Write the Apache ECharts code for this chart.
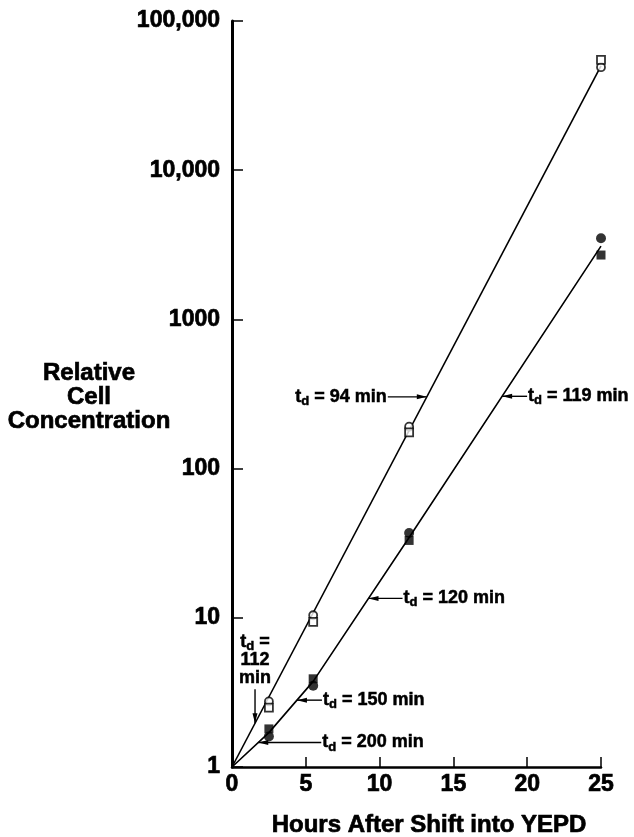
<!DOCTYPE html>
<html><head><meta charset="utf-8">
<script src="https://cdn.jsdelivr.net/npm/echarts@6/dist/echarts.min.js"></script>
<style>html,body{margin:0;padding:0;background:#fff}#c{width:634px;height:837px}</style>
</head><body><div id="c"></div>
<script>
// ---- data ----
const hours = [2.5, 5.5, 12, 25];
const openCircle = [2.75, 10.4, 191, 49000];
const openSquare = [2.5, 9.4, 175, 54800];
const filledCircle = [1.6, 3.5, 37, 3500];
const filledSquare = [1.8, 3.9, 33, 2700];
const fitHoursUpper = [0, 25];
const fitUpper = [1, 50000];
const fitHoursLower = [0, 2.5, 5.5, 12, 25];
const fitLower = [1, 1.7, 3.75, 34.5, 3100];
const yTickLabels = ['1', '10', '100', '1000', '10,000', '100,000'];
const xAxisTitle = 'Hours After Shift into YEPD';
const yAxisTitle = 'Relative\nCell\nConcentration';
// annotations: doubling times, which fitted line the arrow points to, at which hour
const annoLabels = ['94 min', '119 min', '120 min', '150 min', '200 min', '112'];
const annoLines = ['upper', 'lower', 'lower', 'lower', 'lower', 'upper'];
const annoHours = [13.2, 18.3, 9.25, 4.4, 1.78, 1.56];

const FONT = '"Liberation Sans", Arial, Helvetica, sans-serif';
const pairs = (xs, ys) => xs.map((x, i) => [x, ys[i]]);
const heavy = { textBorderColor: '#000', textBorderWidth: 0.7 };

const option = {
  animation: false,
  backgroundColor: '#fff',
  grid: { left: 232, right: 33, top: 21, bottom: 70 },
  xAxis: {
    type: 'value', min: 0, max: 25, interval: 5,
    axisLine: { lineStyle: { color: '#000', width: 2.5 } },
    axisTick: { inside: true, length: 10, lineStyle: { color: '#000', width: 1.5 } },
    axisLabel: Object.assign({ color: '#000', fontSize: 23, fontWeight: 'bold', fontFamily: FONT, margin: 6 }, heavy),
    splitLine: { show: false }
  },
  yAxis: {
    type: 'log', logBase: 10, min: 1, max: 100000, splitNumber: 5,
    axisLine: { lineStyle: { color: '#000', width: 3 } },
    axisTick: { inside: true, length: 11, lineStyle: { color: '#000', width: 1.5 } },
    minorTick: { show: false },
    axisLabel: Object.assign({
      color: '#000', fontSize: 23, fontWeight: 'bold', fontFamily: FONT, margin: 12,
      formatter: v => yTickLabels[Math.round(Math.log10(v))]
    }, heavy),
    splitLine: { show: false }
  },
  series: [
    { type: 'line', data: pairs(fitHoursUpper, fitUpper), symbol: 'none', lineStyle: { color: '#000', width: 1.6 }, z: 1 },
    { type: 'line', data: pairs(fitHoursLower, fitLower), symbol: 'none', lineStyle: { color: '#000', width: 1.6 }, z: 1 },
    { type: 'scatter', data: pairs(hours, openCircle), symbol: 'circle', symbolSize: 8,
      itemStyle: { color: '#fff', borderColor: '#000', borderWidth: 1.8 }, z: 3 },
    { type: 'scatter', data: pairs(hours, openSquare), symbol: 'rect', symbolSize: 8,
      itemStyle: { color: '#fff', borderColor: '#000', borderWidth: 1.8 }, z: 3 },
    { type: 'scatter', data: pairs(hours, filledCircle), symbol: 'circle', symbolSize: 10,
      itemStyle: { color: '#000' }, z: 3 },
    { type: 'scatter', data: pairs(hours, filledSquare), symbol: 'rect', symbolSize: 9,
      itemStyle: { color: '#000' }, z: 3 }
  ]
};

const chart = echarts.init(document.getElementById('c'), null, { renderer: 'canvas' });
chart.setOption(option);

function lineVal(hs, vs, h) {
  for (let i = 0; i < hs.length - 1; i++) {
    if (h >= hs[i] && h <= hs[i + 1]) {
      const t = (h - hs[i]) / (hs[i + 1] - hs[i]);
      return Math.pow(10, Math.log10(vs[i]) + t * (Math.log10(vs[i + 1]) - Math.log10(vs[i])));
    }
  }
  return vs[vs.length - 1];
}

const rich = {
  a: { fontSize: 18, fontWeight: 'bold', fontFamily: FONT, fill: '#000', stroke: '#000', lineWidth: 0.5 },
  s: { fontSize: 13, fontWeight: 'bold', fontFamily: FONT, fill: '#000', stroke: '#000', lineWidth: 0.5, padding: [9, 0, 0, 0] }
};
const ARROW_LEN = [39, 25, 34, 25, 63, 34];
const SIDE = ['left', 'right', 'right', 'right', 'right', 'up'];
const g = [];
annoLabels.forEach((lab, i) => {
  const up = annoLines[i] === 'upper';
  const v = lineVal(up ? fitHoursUpper : fitHoursLower, up ? fitUpper : fitLower, annoHours[i]);
  const p = chart.convertToPixel({ gridIndex: 0 }, [annoHours[i], v]);
  const side = SIDE[i], len = ARROW_LEN[i];
  if (side === 'left' || side === 'right') {
    const dir = side === 'left' ? -1 : 1;
    const tx = p[0] + dir * len;
    g.push({ type: 'line', shape: { x1: p[0], y1: p[1], x2: tx, y2: p[1] }, style: { stroke: '#000', lineWidth: 1.4 } });
    g.push({ type: 'polygon', shape: { points: [[p[0], p[1]], [p[0] + dir * 10, p[1] - 2.5], [p[0] + dir * 10, p[1] + 2.5]] }, style: { fill: '#000' } });
    g.push({ type: 'text', x: tx + dir * 1, y: p[1],
      style: { text: '{a|t}{s|d}{a| = ' + lab + '}', rich: rich, align: side === 'left' ? 'right' : 'left', verticalAlign: 'middle' } });
  } else {
    const ty = p[1] - len;
    g.push({ type: 'line', shape: { x1: p[0], y1: p[1], x2: p[0], y2: ty }, style: { stroke: '#000', lineWidth: 1.4 } });
    g.push({ type: 'polygon', shape: { points: [[p[0], p[1]], [p[0] - 2.5, p[1] - 10], [p[0] + 2.5, p[1] - 10]] }, style: { fill: '#000' } });
    g.push({ type: 'text', x: p[0], y: ty - 2,
      style: { text: '{a|t}{s|d}{a| =}\n{a|' + lab + '}\n{a|min}', rich: rich, align: 'center', verticalAlign: 'bottom', lineHeight: 18 } });
  }
});
g.push({ type: 'text', x: 89, y: 397, style: { text: yAxisTitle, fontSize: 24, fontWeight: 'bold', fontFamily: FONT, fill: '#000', align: 'center', verticalAlign: 'middle', lineHeight: 24, stroke: '#000', lineWidth: 0.7 } });
g.push({ type: 'text', x: 429, y: 825, style: { text: xAxisTitle, fontSize: 24, fontWeight: 'bold', fontFamily: FONT, fill: '#000', align: 'center', verticalAlign: 'middle', stroke: '#000', lineWidth: 0.7 } });
chart.setOption({ graphic: g });
</script>
</body></html>
